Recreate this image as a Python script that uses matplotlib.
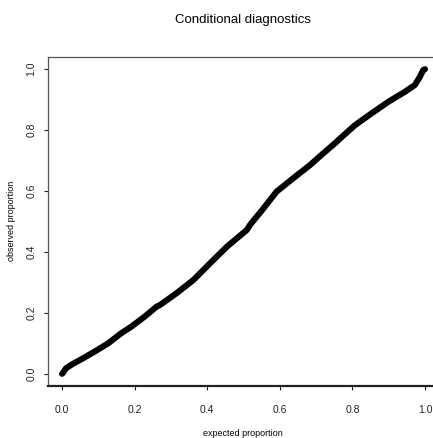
import matplotlib
matplotlib.use('Agg')
import matplotlib.pyplot as plt

# points (expected vs observed proportion)
expected = [0.0, 0.003, 0.011, 0.026, 0.058, 0.09, 0.127, 0.163, 0.191, 0.228, 0.26,
            0.27, 0.316, 0.362, 0.408, 0.454, 0.509, 0.518, 0.555, 0.591, 0.637,
            0.683, 0.72, 0.757, 0.761, 0.807, 0.853, 0.899, 0.945, 0.972, 0.986, 0.995, 1.0]
observed = [0.0, 0.004, 0.018, 0.03, 0.051, 0.073, 0.10, 0.133, 0.155, 0.188, 0.22,
            0.226, 0.265, 0.308, 0.363, 0.417, 0.472, 0.489, 0.543, 0.598, 0.642,
            0.685, 0.724, 0.762, 0.767, 0.816, 0.855, 0.893, 0.926, 0.948, 0.975, 0.997, 1.0]
ticks = [0.0, 0.2, 0.4, 0.6, 0.8, 1.0]
tick_labels = ['0.0', '0.2', '0.4', '0.6', '0.8', '1.0']

plt.rcParams['font.family'] = ['Liberation Sans', 'DejaVu Sans']

W, H = 433, 438
fig = plt.figure(figsize=(W / 100, H / 100), dpi=100)
ax = fig.add_axes([47.5 / W, 52 / H, 392 / W, 329 / H])

ax.plot(expected, observed, color='black', lw=4.4, solid_capstyle='round',
        solid_joinstyle='round')

ax.set_xlim(-0.04, 1.04)
ax.set_ylim(-0.04, 1.04)
ax.set_xticks(ticks)
ax.set_xticklabels(tick_labels)
ax.set_yticks(ticks)
ax.set_yticklabels(tick_labels, rotation=90, va='center')
ax.tick_params(axis='x', length=3, width=0.8, pad=11, labelsize=7.5, colors='#222222')
ax.tick_params(axis='y', length=3, width=0.8, pad=5, labelsize=7.5, colors='#222222')
for side in ['left', 'top', 'right']:
    ax.spines[side].set_color('#555555')
    ax.spines[side].set_linewidth(0.9)
ax.spines['bottom'].set_color('#222222')
ax.spines['bottom'].set_linewidth(1.6)

fig.text(243 / W, 1 - 20 / H, 'Conditional diagnostics', ha='center', va='center', fontsize=9.5)
fig.text(243 / W, 1 - 433 / H, 'expected proportion', ha='center', va='center', fontsize=6.5)
fig.text(12 / W, 1 - 221 / H, 'observed proportion', ha='center', va='center',
         rotation=90, fontsize=6.5)

fig.savefig('out.png', dpi=100)
